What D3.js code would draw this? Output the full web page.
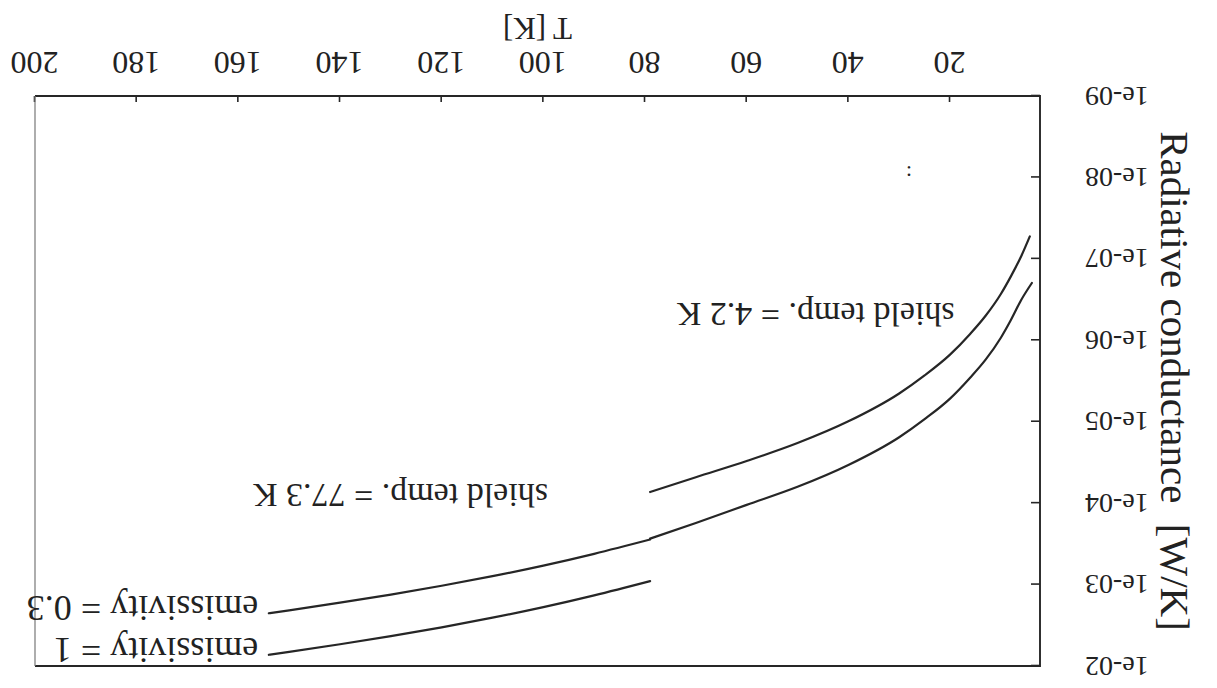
<!DOCTYPE html>
<html>
<head>
<meta charset="utf-8">
<script src="https://cdn.jsdelivr.net/npm/d3@7"></script>
<style>
  body { margin: 0; background: #fff; }
  svg { display: block; }
  text { font-family: "Liberation Serif", "Times New Roman", serif; fill: #222; }
</style>
</head>
<body>
<svg id="chart" width="1217" height="688"></svg>
<script>
// Axis ticks
const xTicks = [20, 40, 60, 80, 100, 120, 140, 160, 180, 200];
const xTickLabels = ["20", "40", "60", "80", "100", "120", "140", "160", "180", "200"];
const yTicks = [1e-9, 1e-8, 1e-7, 1e-6, 1e-5, 1e-4, 1e-3, 1e-2];
const yTickLabels = ["1e-09", "1e-08", "1e-07", "1e-06", "1e-05", "1e-04", "1e-03", "1e-02"];

// Shield at 4.2 K: temperature [K] and conductance [W/K]
const shield42Eps03T = [4.3, 6, 8, 10, 13, 16, 20, 25, 30, 40, 50, 60, 70, 79];
const shield42Eps03G = [5.3e-8, 9.3e-8, 1.63e-7, 2.7e-7, 5.0e-7, 8.3e-7, 1.5e-6, 2.7e-6, 4.5e-6,
                        9.9e-6, 1.83e-5, 3.04e-5, 4.8e-5, 7.3e-5];
const shield42Eps1T  = [3.9, 6, 8, 10, 13, 16, 20, 25, 30, 40, 50, 60, 70, 79];
const shield42Eps1G  = [1.98e-7, 3.2e-7, 5.6e-7, 9.3e-7, 1.73e-6, 2.86e-6, 5.2e-6, 9.3e-6, 1.55e-5,
                        3.4e-5, 6.3e-5, 1.05e-4, 1.75e-4, 2.73e-4];

// Shield at 77.3 K
const shield77Eps03T = [79, 90, 100, 110, 120, 130, 140, 150, 154];
const shield77Eps03G = [2.8e-4, 4.19e-4, 5.85e-4, 7.89e-4, 1.035e-3, 1.327e-3, 1.67e-3, 2.07e-3, 2.25e-3];
const shield77Eps1T  = [79, 90, 100, 110, 120, 130, 140, 150, 154];
const shield77Eps1G  = [9.06e-4, 1.355e-3, 1.89e-3, 2.55e-3, 3.35e-3, 4.3e-3, 5.41e-3, 6.7e-3, 7.28e-3];

// Text annotations placed in data coordinates (T, G)
const noteText = ["shield temp. = 4.2 K", "shield temp. = 77.3 K", "emissivity = 0.3", "emissivity = 1", ":"];
const noteT    = [19.1, 99.1, 156.1, 156.1, 27.5];
const noteG    = [3.5e-7, 5.8e-5, 1.4e-3, 4.55e-3, 7.2e-9];
const noteSize = [34, 34, 36, 36, 22];

const W = 1217, H = 688;
const margin = { top: 22, right: 35, bottom: 96, left: 177 };

const svg = d3.select("#chart");
// the whole figure is printed turned half a turn
const root = svg.append("g").attr("transform", `rotate(180 ${W / 2} ${H / 2})`);

const x = d3.scaleLinear().domain([2.3, 200]).range([margin.left, W - margin.right]);
const y = d3.scaleLog().domain([1e-9, 1e-2]).range([H - margin.bottom, margin.top]);
const [x0, x1] = x.domain();

const ink = "#262626";

// x axis (ticks pointing into the plot)
const gx = root.append("g")
  .attr("transform", `translate(0,${y(1e-9)})`)
  .call(d3.axisBottom(x).tickValues(xTicks)
    .tickFormat((d, i) => xTickLabels[i]).tickSize(-6).tickPadding(21));
gx.select(".domain").remove();
gx.selectAll(".tick line").attr("stroke", ink).attr("stroke-width", 1.6);
gx.selectAll(".tick text").attr("font-size", 32).attr("font-family", "Liberation Serif").attr("fill", ink);

// y axis
const gy = root.append("g")
  .attr("transform", `translate(${x(x0)},0)`)
  .call(d3.axisLeft(y).tickValues(yTicks)
    .tickFormat((d, i) => yTickLabels[i]).tickSize(-9).tickPadding(45));
gy.select(".domain").remove();
gy.selectAll(".tick line").attr("stroke", ink).attr("stroke-width", 1.6);
gy.selectAll(".tick text").attr("font-size", 28).attr("font-family", "Liberation Serif").attr("fill", ink);

// plot frame: the far side is drawn lighter
const frame = root.append("g").attr("fill", "none");
frame.append("path")
  .attr("d", `M${x(x1)},${y(1e-9)}H${x(x0)}V${y(1e-2)}H${x(x1)}`)
  .attr("stroke", ink).attr("stroke-width", 1.9);
frame.append("line")
  .attr("x1", x(x1)).attr("x2", x(x1)).attr("y1", y(1e-9)).attr("y2", y(1e-2))
  .attr("stroke", "#777").attr("stroke-width", 1.2);

// curves
const line = d3.line().x(d => x(d[0])).y(d => y(d[1])).curve(d3.curveMonotoneX);
const series = [
  [shield42Eps03T, shield42Eps03G],
  [shield42Eps1T, shield42Eps1G],
  [shield77Eps03T, shield77Eps03G],
  [shield77Eps1T, shield77Eps1G]
];
series.forEach(([ts, gs]) => {
  root.append("path")
    .datum(ts.map((t, i) => [t, gs[i]]))
    .attr("d", line)
    .attr("fill", "none").attr("stroke", ink).attr("stroke-width", 2.2)
    .attr("stroke-linecap", "round");
});

// annotations
noteText.forEach((t, i) => {
  root.append("text")
    .attr("x", x(noteT[i])).attr("y", y(noteG[i]))
    .attr("font-size", noteSize[i])
    .text(t);
});

// axis titles
root.append("text")
  .attr("x", (x(x0) + x(x1)) / 2).attr("y", H - 28)
  .attr("text-anchor", "middle").attr("dominant-baseline", "central")
  .attr("font-size", 31)
  .text("T [K]");

root.append("text")
  .attr("transform", `translate(42,${(y(1e-9) + y(1e-2)) / 2}) rotate(-90)`)
  .attr("text-anchor", "middle").attr("dominant-baseline", "central")
  .attr("font-size", 41)
  .style("white-space", "pre")
  .text("Radiative conductance  [W/K]");
</script>
</body>
</html>
